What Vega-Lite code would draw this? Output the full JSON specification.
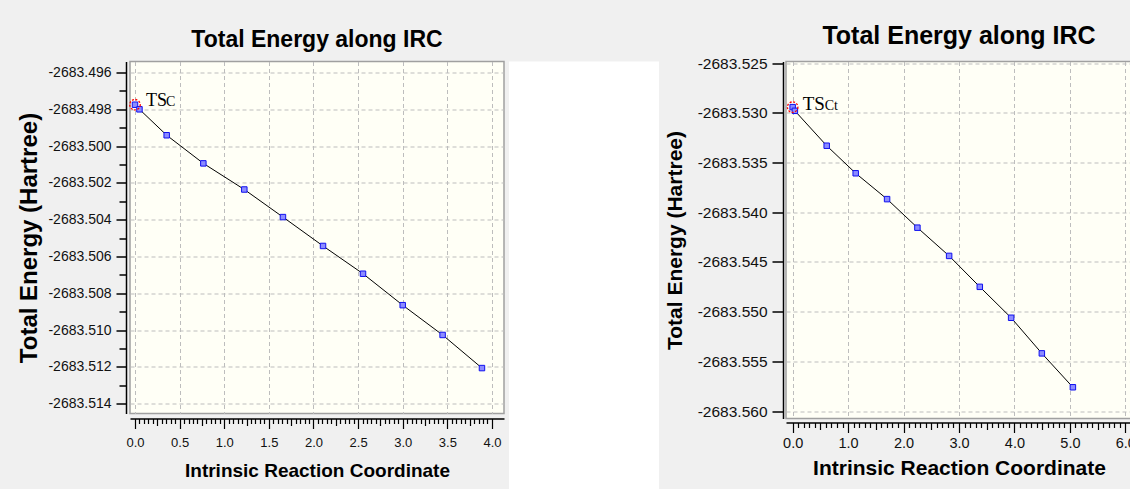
{
  "$schema": "https://vega.github.io/schema/vega-lite/v6.json",
  "background": "#f0f0f0",
  "padding": {"left": 17, "top": 22.5, "right": 0, "bottom": 0},
  "spacing": 4,
  "config": {"view": {"stroke": null}},
  "hconcat": [
    {
      "width": 374,
      "height": 352,
      "view": {"fill": "#fffff6", "stroke": "#a0a0a0", "strokeWidth": 1.5},
      "title": {"text": "Total Energy along IRC", "font": "Liberation Sans", "fontSize": 23, "fontWeight": "bold", "color": "#000000", "anchor": "middle", "baseline": "alphabetic", "offset": -8},
      "data": {"values": [
        {"irc": 0.0, "energy": -2683.49775, "label": "TS", "sub": "C"},
        {"irc": 0.05, "energy": -2683.4980},
        {"irc": 0.355, "energy": -2683.49941},
        {"irc": 0.766, "energy": -2683.50094},
        {"irc": 1.225, "energy": -2683.50236},
        {"irc": 1.658, "energy": -2683.50386},
        {"irc": 2.107, "energy": -2683.50543},
        {"irc": 2.555, "energy": -2683.50694},
        {"irc": 3.0, "energy": -2683.50865},
        {"irc": 3.447, "energy": -2683.51027},
        {"irc": 3.888, "energy": -2683.51207}
      ]},
      "encoding": {
        "x": {"field": "irc", "type": "quantitative",
          "scale": {"domain": [-0.056, 4.135], "nice": false, "zero": false},
          "axis": {
            "title": "Intrinsic Reaction Coordinate", "titleFont": "Liberation Sans", "titleFontSize": 19, "titleFontWeight": "bold", "titleColor": "#000000", "titlePadding": 12,
            "values": [0, 0.05, 0.1, 0.15, 0.2, 0.25, 0.3, 0.35, 0.4, 0.45, 0.5, 0.55, 0.6, 0.65, 0.7, 0.75, 0.8, 0.85, 0.9, 0.95, 1, 1.05, 1.1, 1.15, 1.2, 1.25, 1.3, 1.35, 1.4, 1.45, 1.5, 1.55, 1.6, 1.65, 1.7, 1.75, 1.8, 1.85, 1.9, 1.95, 2, 2.05, 2.1, 2.15, 2.2, 2.25, 2.3, 2.35, 2.4, 2.45, 2.5, 2.55, 2.6, 2.65, 2.7, 2.75, 2.8, 2.85, 2.9, 2.95, 3, 3.05, 3.1, 3.15, 3.2, 3.25, 3.3, 3.35, 3.4, 3.45, 3.5, 3.55, 3.6, 3.65, 3.7, 3.75, 3.8, 3.85, 3.9, 3.95, 4],
            "labelExpr": "abs(datum.value*2 - round(datum.value*2)) < 0.001 ? format(datum.value, '.1f') : ''",
            "labelFont": "Liberation Sans", "labelFontSize": 13, "labelColor": "#111111", "labelPadding": 8,
            "labelOverlap": false, "labelFlush": false, "labelBound": false,
            "offset": 5, "domainColor": "#000000", "domainWidth": 1.5, "tickColor": "#000000", "tickWidth": 1.2,
            "tickSize": {"condition": [{"test": "abs(datum.value*2 - round(datum.value*2)) < 0.001", "value": 10}, {"test": "abs(datum.value*4 - round(datum.value*4)) < 0.001", "value": 7}], "value": 5},
            "grid": true, "gridColor": "#bdbdbd", "gridDash": [4, 3], "gridWidth": 1,
            "gridOpacity": {"condition": {"test": "abs(datum.value*2 - round(datum.value*2)) < 0.001", "value": 1}, "value": 0}
          }
        },
        "y": {"field": "energy", "type": "quantitative",
          "scale": {"domain": [-2683.51454, -2683.4954], "nice": false, "zero": false},
          "axis": {
            "title": "Total Energy (Hartree)", "titleFont": "Liberation Sans", "titleFontSize": 24, "titleFontWeight": "bold", "titleColor": "#000000", "titlePadding": 6,
            "values": [-2683.496, -2683.497, -2683.498, -2683.499, -2683.5, -2683.501, -2683.502, -2683.503, -2683.504, -2683.505, -2683.506, -2683.507, -2683.508, -2683.509, -2683.51, -2683.511, -2683.512, -2683.513, -2683.514],
            "labelExpr": "abs(datum.value*500 - round(datum.value*500)) < 0.01 ? replace(format(datum.value, '.3f'), '\u2212', '-') : ''",
            "labelFont": "Liberation Sans", "labelFontSize": 14, "labelColor": "#111111", "labelPadding": 5,
            "labelOverlap": false, "labelFlush": false, "labelBound": false,
            "offset": 4, "domainColor": "#000000", "domainWidth": 1.5, "tickColor": "#000000", "tickWidth": 1.5,
            "tickSize": {"condition": {"test": "abs(datum.value*500 - round(datum.value*500)) < 0.01", "value": 10}, "value": 7},
            "grid": true, "gridColor": "#bdbdbd", "gridDash": [4, 3], "gridWidth": 1,
            "gridOpacity": {"condition": {"test": "abs(datum.value*500 - round(datum.value*500)) < 0.01", "value": 1}, "value": 0}
          }
        }
      },
      "layer": [
        {"mark": {"type": "line", "color": "#000000", "strokeWidth": 1}},
        {"mark": {"type": "point", "shape": "square", "size": 30, "filled": true, "fill": "#8c8cff", "stroke": "#1010f0", "strokeWidth": 1, "opacity": 1}},
        {"transform": [{"filter": "datum.label == 'TS'"}], "mark": {"type": "point", "shape": "circle", "size": 110, "filled": false, "stroke": "#ff0000", "strokeDash": [2, 1.5], "strokeWidth": 1.3, "opacity": 1}},
        {"transform": [{"filter": "datum.label == 'TS'"}], "mark": {"type": "text", "font": "Liberation Serif", "fontSize": 18, "color": "#000000", "align": "left", "baseline": "alphabetic", "dx": 11, "dy": 1}, "encoding": {"text": {"field": "label"}}},
        {"transform": [{"filter": "datum.label == 'TS'"}], "mark": {"type": "text", "font": "Liberation Serif", "fontSize": 14, "color": "#000000", "align": "left", "baseline": "alphabetic", "dx": 31, "dy": 1}, "encoding": {"text": {"field": "sub"}}}
      ]
    },
    {
      "width": 150,
      "height": 470,
      "view": {"fill": "#ffffff", "stroke": null},
      "data": {"values": []},
      "mark": {"type": "point"},
      "encoding": {}
    },
    {
      "width": 346,
      "height": 357,
      "view": {"fill": "#fffff6", "stroke": "#a0a0a0", "strokeWidth": 1.5},
      "title": {"text": "Total Energy along IRC", "font": "Liberation Sans", "fontSize": 25, "fontWeight": "bold", "color": "#000000", "anchor": "middle", "baseline": "alphabetic", "offset": -12.5},
      "data": {"values": [
        {"irc": 0.0, "energy": -2683.52943, "label": "TS", "sub": "Ct"},
        {"irc": 0.04, "energy": -2683.5298},
        {"irc": 0.614, "energy": -2683.53331},
        {"irc": 1.137, "energy": -2683.53608},
        {"irc": 1.703, "energy": -2683.53868},
        {"irc": 2.25, "energy": -2683.54155},
        {"irc": 2.822, "energy": -2683.54439},
        {"irc": 3.375, "energy": -2683.5475},
        {"irc": 3.94, "energy": -2683.55061},
        {"irc": 4.494, "energy": -2683.55419},
        {"irc": 5.054, "energy": -2683.5576}
      ]},
      "encoding": {
        "x": {"field": "irc", "type": "quantitative",
          "scale": {"domain": [-0.12, 6.12], "nice": false, "zero": false},
          "axis": {
            "title": "Intrinsic Reaction Coordinate", "titleFont": "Liberation Sans", "titleFontSize": 21, "titleFontWeight": "bold", "titleColor": "#000000", "titlePadding": 7,
            "values": [0, 0.1, 0.2, 0.3, 0.4, 0.5, 0.6, 0.7, 0.8, 0.9, 1, 1.1, 1.2, 1.3, 1.4, 1.5, 1.6, 1.7, 1.8, 1.9, 2, 2.1, 2.2, 2.3, 2.4, 2.5, 2.6, 2.7, 2.8, 2.9, 3, 3.1, 3.2, 3.3, 3.4, 3.5, 3.6, 3.7, 3.8, 3.9, 4, 4.1, 4.2, 4.3, 4.4, 4.5, 4.6, 4.7, 4.8, 4.9, 5, 5.1, 5.2, 5.3, 5.4, 5.5, 5.6, 5.7, 5.8, 5.9, 6],
            "labelExpr": "abs(datum.value - round(datum.value)) < 0.001 ? format(datum.value, '.1f') : ''",
            "labelFont": "Liberation Sans", "labelFontSize": 14.5, "labelColor": "#111111", "labelPadding": 4,
            "labelOverlap": false, "labelFlush": false, "labelBound": false,
            "offset": 4, "domainColor": "#000000", "domainWidth": 1.5, "tickColor": "#000000", "tickWidth": 1.2,
            "tickSize": {"condition": [{"test": "abs(datum.value - round(datum.value)) < 0.001", "value": 10}, {"test": "abs(datum.value*2 - round(datum.value*2)) < 0.001", "value": 7}], "value": 5},
            "grid": true, "gridColor": "#bdbdbd", "gridDash": [4, 3], "gridWidth": 1,
            "gridOpacity": {"condition": {"test": "abs(datum.value - round(datum.value)) < 0.001", "value": 1}, "value": 0}
          }
        },
        "y": {"field": "energy", "type": "quantitative",
          "scale": {"domain": [-2683.56074, -2683.52484], "nice": false, "zero": false},
          "axis": {
            "title": "Total Energy (Hartree)", "titleFont": "Liberation Sans", "titleFontSize": 21, "titleFontWeight": "bold", "titleColor": "#000000", "titlePadding": 12,
            "values": [-2683.525, -2683.53, -2683.535, -2683.54, -2683.545, -2683.55, -2683.555, -2683.56],
            "labelExpr": "replace(format(datum.value, '.3f'), '\u2212', '-')",
            "labelFont": "Liberation Sans", "labelFontSize": 15.5, "labelColor": "#111111", "labelPadding": 5,
            "labelOverlap": false, "labelFlush": false, "labelBound": false,
            "offset": 3, "domainColor": "#000000", "domainWidth": 1.5, "tickColor": "#000000", "tickWidth": 1.5, "tickSize": 11,
            "grid": true, "gridColor": "#bdbdbd", "gridDash": [4, 3], "gridWidth": 1
          }
        }
      },
      "layer": [
        {"mark": {"type": "line", "color": "#000000", "strokeWidth": 1}},
        {"mark": {"type": "point", "shape": "square", "size": 30, "filled": true, "fill": "#8c8cff", "stroke": "#1010f0", "strokeWidth": 1, "opacity": 1}},
        {"transform": [{"filter": "datum.label == 'TS'"}], "mark": {"type": "point", "shape": "circle", "size": 110, "filled": false, "stroke": "#ff0000", "strokeDash": [2, 1.5], "strokeWidth": 1.3, "opacity": 1}},
        {"transform": [{"filter": "datum.label == 'TS'"}], "mark": {"type": "text", "font": "Liberation Serif", "fontSize": 19, "color": "#000000", "align": "left", "baseline": "alphabetic", "dx": 10, "dy": 3}, "encoding": {"text": {"field": "label"}}},
        {"transform": [{"filter": "datum.label == 'TS'"}], "mark": {"type": "text", "font": "Liberation Serif", "fontSize": 14, "color": "#000000", "align": "left", "baseline": "alphabetic", "dx": 32, "dy": 3}, "encoding": {"text": {"field": "sub"}}}
      ]
    }
  ]
}
